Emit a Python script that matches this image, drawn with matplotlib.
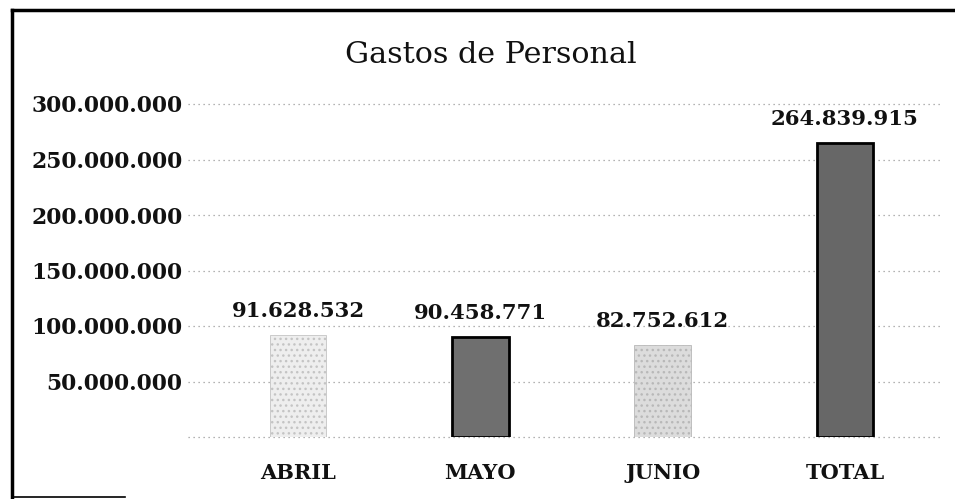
import matplotlib
matplotlib.use('Agg')
import matplotlib.pyplot as plt
from matplotlib.lines import Line2D

# data
categories = ["ABRIL", "MAYO", "JUNIO", "TOTAL"]
values = [91628532, 90458771, 82752612, 264839915]
y_ticks = [0, 50000000, 100000000, 150000000, 200000000, 250000000, 300000000]


def fmt_miles(v):
    # 91628532 -> "91.628.532"
    return f"{v:,.0f}".replace(",", ".")


plt.rcParams['font.family'] = ['DejaVu Serif']

fig = plt.figure(figsize=(9.55, 4.99), dpi=100)
fig.patch.set_facecolor('white')
W, H = 955, 499
ax = fig.add_axes([188 / W, 1 - 437 / H, (940 - 188) / W, (437 - 104) / H])

face_colors = ['#eeeeee', '#6f6f6f', '#dcdcdc', '#676767']
edge_colors = ['#c4c4c4', '#000000', '#b8b8b8', '#000000']
hatches = ['...', None, '...', None]
line_widths = [0.6, 2.0, 0.6, 2.0]

x = range(len(categories))
bars = ax.bar(x, values, width=0.31, color=face_colors, edgecolor=edge_colors,
              linewidth=line_widths, zorder=3)
for bar, h in zip(bars, hatches):
    if h:
        bar.set_hatch(h)

for xi, v in zip(x, values):
    ax.annotate(fmt_miles(v), (xi, v), xytext=(0, 10), textcoords='offset points',
                ha='center', va='bottom', fontsize=15.3, fontweight='bold',
                color='#111111')

ax.set_xlim(-0.603, 3.521)
ax.set_ylim(0, 300000000)
ax.set_xticks(list(x))
ax.set_xticklabels(categories, fontsize=15, fontweight='bold', color='#111111')
ax.set_yticks(y_ticks)
ax.set_yticklabels(['' if t == 0 else fmt_miles(t) for t in y_ticks],
                   fontsize=15.7, fontweight='bold', color='#111111')
ax.tick_params(axis='x', length=0, pad=19)
ax.tick_params(axis='y', length=0, pad=4)

for t in y_ticks:
    ax.axhline(t, color='#9a9a9a', linestyle=(0, (1, 3)), linewidth=0.9,
               zorder=1, clip_on=False)

for s in ax.spines.values():
    s.set_visible(False)

fig.text(491 / W, 1 - 55 / H, "Gastos de Personal", ha='center', va='center',
         fontsize=21.7, color='#111111')

# scanned frame: left, top and a short piece at the bottom
fig.add_artist(Line2D([12 / W, 12 / W], [1 - 10 / H, 1 - 497 / H],
                      color='black', linewidth=2.5))
fig.add_artist(Line2D([12 / W, 1.0], [1 - 10 / H, 1 - 10 / H],
                      color='black', linewidth=2.5))
fig.add_artist(Line2D([12 / W, 125 / W], [1 - 497 / H, 1 - 497 / H],
                      color='black', linewidth=1.2))

fig.savefig('out.png', dpi=100, facecolor='white')
